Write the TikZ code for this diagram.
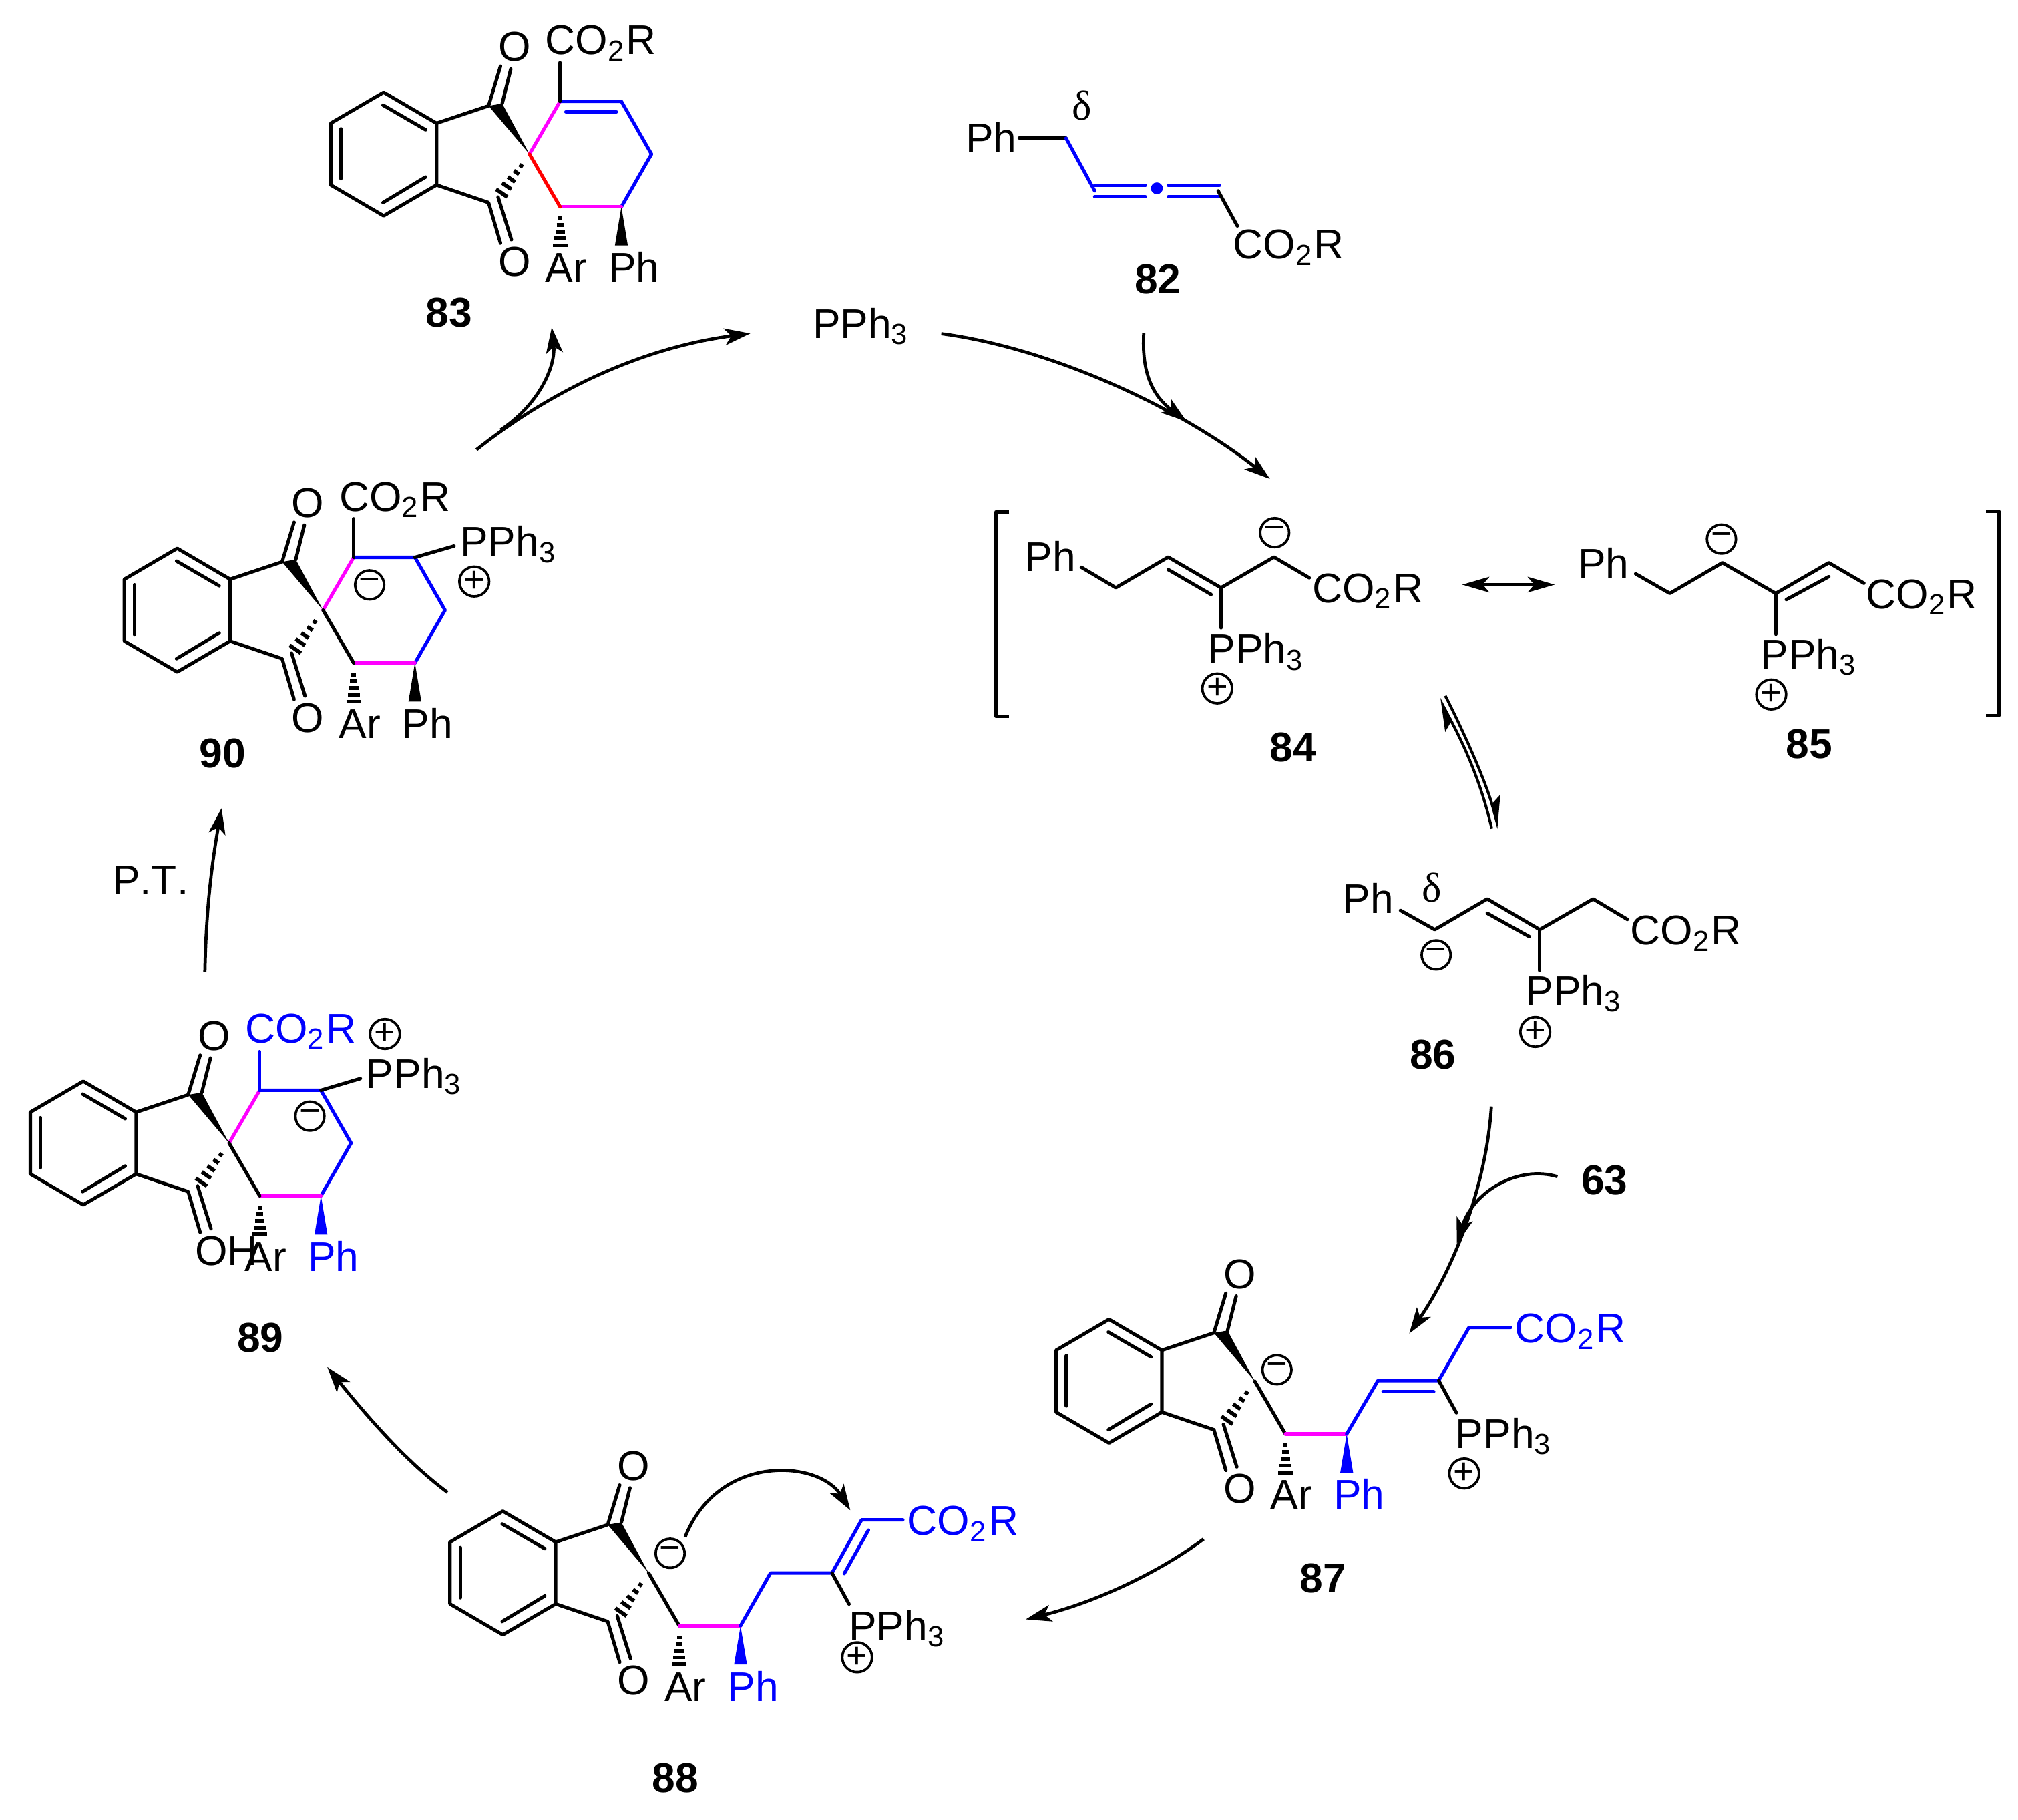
\documentclass[tikz,border=0pt]{standalone}
\usepackage{fontspec}
\setmainfont{Liberation Sans}
\newfontfamily\greekfont{Liberation Serif}
\usetikzlibrary{calc,arrows.meta}
\definecolor{bondpink}{RGB}{255,0,255}
\definecolor{bondblue}{RGB}{0,0,255}
\definecolor{bondred}{RGB}{255,0,0}
\newcommand{\cotwo}{CO\textsubscript{2}R}
\newcommand{\pphthree}{PPh\textsubscript{3}}
\tikzset{
    bond/.style = {line width=0.75pt, line cap=round, line join=round},
    hashline/.style = {line width=0.85pt},
    lbl/.style = {inner sep=0pt, anchor=base west, xshift=-0.018cm, font=\fontsize{9.2}{11}\selectfont},
    cmpd/.style = {inner sep=0pt, anchor=base, font=\fontsize{9.2}{11}\selectfont\bfseries},
    chg/.style = {draw, circle, line width=0.55pt, inner sep=0pt, minimum size=0.225cm, font=\fontsize{8}{9}\selectfont},
    rxn/.style = {line width=0.7pt, -{Stealth[length=0.2cm,width=0.13cm,inset=0.05cm]}},
    eqm/.style = {line width=0.6pt, -{Stealth[harpoon,length=0.22cm,width=0.16cm,inset=0.05cm]}},
    reso/.style = {line width=0.7pt, {Stealth[length=0.21cm,width=0.12cm,inset=0.05cm]}-{Stealth[length=0.21cm,width=0.12cm,inset=0.05cm]}}
}
\newcommand{\hashbond}[3]{%
    \foreach \t in {0.3,0.47,0.65,0.82,1}{\draw[hashline] ($(#1)!\t!(#2)$) -- ($(#1)!\t!(#3)$);}
}
\newcommand{\spirocore}[4]{%
    \begin{scope}[shift={(#2)}]
        \coordinate (#1s) at (0,0);
        \path (-113.3,-48) coordinate (#1b1) (-72.2,-24) coordinate (#1b2) (-72.2,24) coordinate (#1b3)
              (-113.3,48) coordinate (#1b4) (-154.4,24) coordinate (#1b5) (-154.4,-24) coordinate (#1b6);
        \path (-31.8,-37.5) coordinate (#1ca) (-21.2,-39.3) coordinate (#1cb) (-22.5,-68.3) coordinate (#1oa) (-14.5,-66.1) coordinate (#1ob);
        \path (-31.8,37.7) coordinate (#1cc) (-24.4,33.4) coordinate (#1cd) (-22.5,69.3) coordinate (#1oc) (-14,66.6) coordinate (#1od);
        \path (23.8,-41) coordinate (#1ra) (71.4,-41) coordinate (#1rb) (94.8,0) coordinate (#1rc)
              (71.4,41) coordinate (#1rd) (23.8,41) coordinate (#1re) (23.8,-71) coordinate (#1rt);
        \path (-25.9,27.3) coordinate (#1hl) (-17.2,33.4) coordinate (#1hr);
        \path (18.1,71) coordinate (#1al) (29.5,71) coordinate (#1ar) (66.4,71) coordinate (#1pl) (76.4,71) coordinate (#1pr);
        \draw[bond] (#1b1) -- (#1b2) -- (#1b3) -- (#1b4) -- (#1b5) -- (#1b6) -- cycle;
        \draw[bond] (-146.4,-19.7) coordinate (#1i1) -- (-146.4,19.2) coordinate (#1i2);
        \draw[bond] (-113.8,-38.1) coordinate (#1i3) -- (-80.7,-18.9) coordinate (#1i4);
        \draw[bond] (-113.8,37.7) coordinate (#1i5) -- (-80.7,17.8) coordinate (#1i6);
        \draw[bond] (#1b2) -- (#1ca) -- (#1oa);
        \draw[bond] (#1cb) -- (#1ob);
        \draw[bond] (#1b3) -- (#1cc) -- (#1oc);
        \draw[bond] (#1cd) -- (#1od);
        \fill (#1s) -- (#1ca) -- (#1cb) -- cycle;
        \hashbond{#1s}{#1hl}{#1hr}
        \hashbond{#1re}{#1al}{#1ar}
        \fill[#4] (#1rd) -- (#1pl) -- (#1pr) -- cycle;
        \node[lbl] (#1otop) at (-23.2,-72) {O};
        \node[lbl] (#1obot) at (-23.2,94.8) {#3};
        \node[lbl] (#1arl) at (13.4,99.6) {Ar};
        \node[lbl,text=#4] (#1phl) at (62.4,99.6) {Ph};
    \end{scope}
}
\newcommand{\spiroring}[2]{%
    \draw[bond,bondpink] (#1s) -- (#1ra);
    \draw[bond,bondblue] (#1ra) -- (#1rb) -- (#1rc) -- (#1rd);
    \draw[bond,bondpink] (#1rd) -- (#1re);
    \draw[bond,#2] (#1re) -- (#1s);
}
\begin{document}
\begin{tikzpicture}[x=0.01cm,y=-0.01cm]
        \useasboundingbox (0,0) rectangle (1568,1413.4);

        \spirocore{83}{411.4,119.7}{O}{black}
        \spiroring{83}{bondred}
        \draw[bond] (83ra) -- (83rt);
        \path (439.7,86.8) coordinate (83d1) (478.9,86.8) coordinate (83d2);
        \draw[bond,bondblue] (83d1) -- (83d2);
        \node[lbl] (83co) at (424.8,42.4) {\cotwo};
        \node[cmpd] (83n) at (348.7,254) {83};

        \path (791.9,107.3) coordinate (82a) (828.3,107.3) coordinate (82b) (850.6,148.3) coordinate (82c)
              (850.6,144.2) coordinate (82d) (889.9,144.2) coordinate (82e) (850.6,152.9) coordinate (82f) (889.9,152.9) coordinate (82g)
              (907.8,144.2) coordinate (82h) (947.4,144.2) coordinate (82i) (907.8,152.9) coordinate (82j) (947.4,152.9) coordinate (82k)
              (946.5,148.3) coordinate (82l) (961.4,175.6) coordinate (82m);
        \draw[bond] (82a) -- (82b);
        \draw[bond,bondblue] (82b) -- (82c);
        \draw[bond,bondblue] (82d) -- (82e);
        \draw[bond,bondblue] (82f) -- (82g);
        \draw[bond,bondblue] (82h) -- (82i);
        \draw[bond,bondblue] (82j) -- (82k);
        \fill[bondblue] (898.9,146.3) coordinate (82dot) circle (4.6);
        \draw[bond] (82l) -- (82m);
        \node[lbl] (82ph) at (751.4,118.6) {Ph};
        \node[lbl] (82co) at (959.3,201.1) {\cotwo};
        \node[lbl,anchor=base] (82del) at (842.6,92.9) {\greekfont δ};
        \node[cmpd] (82n) at (899.7,228) {82};

        \node[lbl] (pph) at (632.6,262.8) {\pphthree};
        \path (731.4,259.2) coordinate (pphout) (986.7,372) coordinate (c84in)
              (888.7,258.7) coordinate (c82out) (922,327.5) coordinate (c82in);
        \draw[rxn] (pphout) .. controls (820,271) and (920,319) .. (c84in);
        \draw[rxn] (c82out) .. controls (887,289) and (895,307) .. (c82in);

        \path (784.2,397.5) coordinate (brl1) (774,397.5) coordinate (brl2) (774,556.5) coordinate (brl3) (784.2,556.5) coordinate (brl4)
              (1543,397.2) coordinate (brr1) (1553,397.2) coordinate (brr2) (1553,556) coordinate (brr3) (1543,556) coordinate (brr4);
        \draw[bond,line cap=butt] (brl1) -- (brl2) -- (brl3) -- (brl4);
        \draw[bond,line cap=butt] (brr1) -- (brr2) -- (brr3) -- (brr4);

        \path (840.2,440.7) coordinate (84a) (867,456.6) coordinate (84b) (907.7,432.8) coordinate (84c) (948.7,456.6) coordinate (84d)
              (989.9,432.8) coordinate (84e) (1017.3,448.9) coordinate (84f) (907.7,442.5) coordinate (84g) (941,461.8) coordinate (84h)
              (948.7,487.8) coordinate (84i);
        \draw[bond] (84a) -- (84b) -- (84c) -- (84d) -- (84e) -- (84f);
        \draw[bond] (84g) -- (84h);
        \draw[bond] (84d) -- (84i);
        \node[lbl] (84ph) at (797.4,444) {Ph};
        \node[lbl] (84co) at (1020.9,468.2) {\cotwo};
        \node[lbl] (84p) at (939.6,515.5) {\pphthree};
        \node[chg] (84plus) at (945.8,534.8) {+};
        \node[chg] (84minus) at (990.4,413.8) {−};
        \node[cmpd] (84n) at (1004.7,591.6) {84};

        \path (1136.1,454.2) coordinate (resoa) (1208.1,454.2) coordinate (resob);
        \draw[reso] (resoa) -- (resob);

        \path (1270.9,445.8) coordinate (85a) (1297.5,461) coordinate (85b) (1338.3,437.2) coordinate (85c) (1379.8,461) coordinate (85d)
              (1421,437.2) coordinate (85e) (1448.3,453.1) coordinate (85f) (1388,465.8) coordinate (85g) (1421,448) coordinate (85h)
              (1379.8,492.8) coordinate (85i);
        \draw[bond] (85a) -- (85b) -- (85c) -- (85d) -- (85e) -- (85f);
        \draw[bond] (85g) -- (85h);
        \draw[bond] (85d) -- (85i);
        \node[lbl] (85ph) at (1227.3,449) {Ph};
        \node[lbl] (85co) at (1451.1,472.8) {\cotwo};
        \node[lbl] (85p) at (1369.2,519.5) {\pphthree};
        \node[chg] (85plus) at (1376.3,539.5) {+};
        \node[chg] (85minus) at (1337.6,418.8) {−};
        \node[cmpd] (85n) at (1405.7,589.4) {85};

        \path (1159.1,643.7) coordinate (eqa) (1118.3,542.7) coordinate (eqb) (1123,540.5) coordinate (eqc) (1164.5,643.7) coordinate (eqd);
        \draw[eqm] (eqa) .. controls (1150,604) and (1135,574) .. (eqb);
        \draw[eqm] (eqc) .. controls (1140,574) and (1155,609) .. (eqd);

        \path (1088.2,707.3) coordinate (86a) (1114.8,722.2) coordinate (86b) (1155.6,698.4) coordinate (86c) (1196.4,722.2) coordinate (86d)
              (1237.9,698.4) coordinate (86e) (1264.5,714.3) coordinate (86f) (1155.6,709.5) coordinate (86g) (1188.2,727.6) coordinate (86h)
              (1196.4,754) coordinate (86i);
        \draw[bond] (86a) -- (86b) -- (86c) -- (86d) -- (86e) -- (86f);
        \draw[bond] (86g) -- (86h);
        \draw[bond] (86d) -- (86i);
        \node[lbl] (86ph) at (1044.5,709.5) {Ph};
        \node[lbl] (86co) at (1268,734) {\cotwo};
        \node[lbl] (86p) at (1186.5,781) {\pphthree};
        \node[chg] (86plus) at (1192.9,801.6) {+};
        \node[chg] (86minus) at (1115.9,741.9) {−};
        \node[lbl,anchor=base] (86del) at (1114.1,700.6) {\greekfont δ};
        \node[cmpd] (86n) at (1113.4,830.2) {86};

        \path (1158.8,859.6) coordinate (c86out) (1095,1036) coordinate (c87in) (1210.2,914.1) coordinate (c63out) (1132,966) coordinate (c63in);
        \draw[rxn] (c86out) .. controls (1155,920) and (1130,985) .. (c87in);
        \draw[rxn] (c63out) .. controls (1180,905) and (1145,925) .. (c63in);
        \node[cmpd,anchor=base west] (c63) at (1228,928) {63};

        \spirocore{87}{975,1073}{O}{bondblue}
        \path (1070.7,1072.5) coordinate (87a) (1117.9,1072.5) coordinate (87b) (1141.4,1031.3) coordinate (87c) (1173.7,1031.3) coordinate (87d)
              (1074.7,1081.2) coordinate (87e) (1114,1081.2) coordinate (87f) (1131.6,1097.5) coordinate (87g);
        \draw[bond] (87s) -- (87re);
        \draw[bond,bondpink] (87re) -- (87rd);
        \draw[bond,bondblue] (87rd) -- (87a) -- (87b) -- (87c) -- (87d);
        \draw[bond,bondblue] (87e) -- (87f);
        \draw[bond] (87b) -- (87g);
        \node[lbl,text=bondblue] (87co) at (1178.2,1043.2) {\cotwo};
        \node[lbl] (87p) at (1132.2,1124.9) {\pphthree};
        \node[chg] (87plus) at (1137.7,1144.7) {+};
        \node[chg] (87minus) at (992.2,1064.1) {−};
        \node[cmpd] (87n) at (1028.1,1237.4) {87};

        \path (935.2,1195.6) coordinate (c87out) (797,1258) coordinate (c88in);
        \draw[rxn] (c87out) .. controls (900,1222) and (850,1245) .. (c88in);

        \spirocore{88}{504,1222}{O}{bondblue}
        \path (598.7,1222) coordinate (88a) (646.5,1222) coordinate (88b) (669.5,1180.7) coordinate (88c) (701.5,1180.7) coordinate (88d)
              (656,1222.4) coordinate (88e) (674.8,1188.7) coordinate (88f) (659.7,1246.1) coordinate (88g);
        \draw[bond] (88s) -- (88re);
        \draw[bond,bondpink] (88re) -- (88rd);
        \draw[bond,bondblue] (88rd) -- (88a) -- (88b) -- (88c) -- (88d);
        \draw[bond,bondblue] (88e) -- (88f);
        \draw[bond] (88b) -- (88g);
        \node[lbl,text=bondblue] (88co) at (706.2,1192.8) {\cotwo};
        \node[lbl] (88p) at (660.7,1274.5) {\pphthree};
        \node[chg] (88plus) at (666,1287.5) {+};
        \node[chg] (88minus) at (520.7,1206.7) {−};
        \node[cmpd] (88n) at (524.8,1392.5) {88};
        \path (532.4,1194) coordinate (c88a) (660.7,1173.3) coordinate (c88b);
        \draw[rxn] (c88a) .. controls (558,1129) and (636,1134) .. (c88b);

        \path (347.7,1159.4) coordinate (c88out) (254.3,1062) coordinate (c89in);
        \draw[rxn] (c88out) .. controls (315,1135) and (285,1100) .. (c89in);

        \spirocore{89}{178,888}{\kern-0.6pt OH}{bondblue}
        \spiroring{89}{black}
        \draw[bond,bondblue] (89ra) -- (89rt);
        \path (280,837.9) coordinate (89pb);
        \draw[bond] (89rb) -- (89pb);
        \node[lbl,text=bondblue] (89co) at (191.6,810.2) {\cotwo};
        \node[lbl] (89p) at (285.4,845.3) {\pphthree};
        \node[chg] (89plus) at (299.1,803.2) {+};
        \node[chg] (89minus) at (240.8,867.1) {−};
        \node[cmpd] (89n) at (202.3,1050.6) {89};

        \path (159.2,755) coordinate (c89out) (172.1,627.9) coordinate (c90in);
        \draw[rxn] (c89out) .. controls (160,715) and (163,680) .. (c90in);
        \node[lbl] (pt) at (88.3,695) {P\kern0pt.\kern0pt T\kern0pt.};

        \spirocore{90}{251,474}{O}{black}
        \spiroring{90}{black}
        \draw[bond] (90ra) -- (90rt);
        \path (352.8,424.2) coordinate (90pb);
        \draw[bond] (90rb) -- (90pb);
        \node[lbl] (90co) at (264.7,397) {\cotwo};
        \node[lbl] (90p) at (358.7,432.1) {\pphthree};
        \node[chg] (90plus) at (368.5,451.8) {+};
        \node[chg] (90minus) at (287.2,454.4) {−};
        \node[cmpd] (90n) at (172.8,596.5) {90};

        \path (370.2,349.4) coordinate (c90out) (583,259) coordinate (pphin) (389,334) coordinate (c83start) (428.7,254.3) coordinate (c83in);
        \draw[rxn] (c90out) .. controls (430,302) and (500,270) .. (pphin);
        \draw[rxn] (c83start) .. controls (418,315) and (432,285) .. (c83in);
\end{tikzpicture}
\end{document}
